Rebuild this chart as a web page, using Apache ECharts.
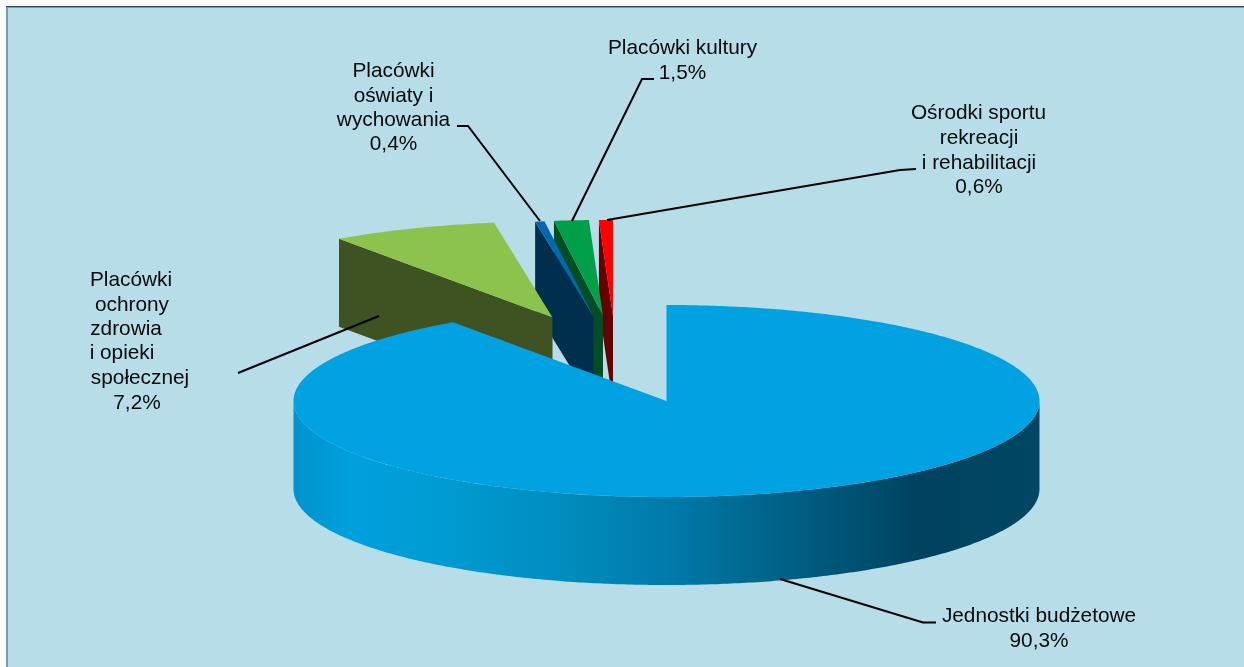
<!DOCTYPE html>
<html>
<head>
<meta charset="utf-8">
<style>html,body{margin:0;padding:0;background:#fff}#c{width:1244px;height:667px}</style>
<script src="https://cdn.jsdelivr.net/npm/echarts@6/dist/echarts.min.js"></script>
</head>
<body>
<div id="c"></div>
<script>
// ---- data ----
const categories = ['Jednostki budżetowe','Placówki ochrony zdrowia i opieki społecznej','Placówki oświaty i wychowania','Placówki kultury','Ośrodki sportu rekreacji i rehabilitacji'];
const shares = [90.3, 7.2, 0.4, 1.5, 0.6];
const labelLines = [
  ['Jednostki budżetowe','90,3%'],
  ['Placówki','ochrony','zdrowia','i opieki','społecznej','7,2%'],
  ['Placówki','oświaty i','wychowania','0,4%'],
  ['Placówki kultury','1,5%'],
  ['Ośrodki sportu','rekreacji','i rehabilitacji','0,6%']
];

// ---- styles and layout ----
const topColors  = ['#00A2E2','#8BC34C','#0067B1','#00A04B','#FF0000'];
const wallColors = [null,'#3F5322','#002F4E','#004D26','#660000'];
const pie = {cx:666.5, cy:401, rx:373, ry:96, depth:88};
const explode = [[0,0],[-114,-83.5],[-73,-84.5],[-63.5,-85],[-53.5,-85]];
const labelCenters = [
  [1039,1039],
  [131,132,126,122,140,137],
  [393.5,393.5,393.5,393.5],
  [682.5,682.5],
  [978.5,979,979,979]
];
const labelBaselines = [
  [623,648],
  [287,312,336,360,385,410],
  [78,103,127,151],
  [55,80],
  [120,145,170,194]
];
const leaders = [
  [[780,579],[923,622.5],[936,622.5]],
  [[379,316],[238,373]],
  [[540,221],[468,126],[457,126]],
  [[572,221],[642,79],[654,79]],
  [[607,220],[900,170],[916,169]]
];
const font = '20.8px "Liberation Sans", Arial, sans-serif';

// ---- geometry derived from the shares ----
const total = shares.reduce((a,b)=>a+b,0);
const starts = [];
shares.reduce((acc,v,i)=>{starts[i]=acc; return acc+v/total*2*Math.PI;},0);

function rimPoint(a, ox, oy, dz){
  return [pie.cx+ox+pie.rx*Math.sin(a), pie.cy+oy-pie.ry*Math.cos(a)+dz];
}
function arc(a0,a1,ox,oy,dz){
  const n=Math.max(2,Math.ceil(Math.abs(a1-a0)/0.01)), pts=[];
  for(let k=0;k<=n;k++) pts.push(rimPoint(a0+(a1-a0)*k/n,ox,oy,dz));
  return pts;
}

function renderSlice(params, api){
  const i = api.value(1), v = api.value(0);
  const a0 = starts[i], a1 = a0 + v/total*2*Math.PI;
  const [ox,oy] = explode[i];
  const apex = [pie.cx+ox, pie.cy+oy];
  const children = [];
  if(wallColors[i]){
    // cut wall of the exploded slice, seen from the front
    const rim = rimPoint(a0,ox,oy,0);
    children.push({type:'polygon',shape:{points:[apex,rim,[rim[0],rim[1]+pie.depth],[apex[0],apex[1]+pie.depth]]},
      style:{fill:wallColors[i]}});
  } else {
    // front outer wall of the big slice
    const top = arc(Math.PI/2,3*Math.PI/2,ox,oy,0);
    const bot = arc(3*Math.PI/2,Math.PI/2,ox,oy,pie.depth);
    children.push({type:'polygon',shape:{points:top.concat(bot)},style:{fill:new echarts.graphic.LinearGradient(0,0,1,0,[
      {offset:0,color:'#0093CC'},{offset:0.08,color:'#00A0DE'},{offset:0.2,color:'#009BD2'},
      {offset:0.35,color:'#008EC0'},{offset:0.5,color:'#007BAB'},{offset:0.65,color:'#006288'},
      {offset:0.84,color:'#00425F'},{offset:1,color:'#004763'}])}});
  }
  children.push({type:'polygon',shape:{points:[apex].concat(arc(a0,a1,ox,oy,0))},style:{fill:topColors[i]}});
  children.push({type:'polyline',shape:{points:leaders[i]},style:{fill:null,stroke:'#000',lineWidth:2}});
  labelLines[i].forEach((t,k)=>{
    children.push({type:'text',style:{text:t,x:labelCenters[i][k],y:labelBaselines[i][k]-7,
      font:font,fill:'#0a0a0a',align:'center',verticalAlign:'middle'}});
  });
  return {type:'group',children};
}

// drawn back to front: smallest-gap slices first, big slice last
const drawOrder = shares.map((v,i)=>[v,i,categories[i]]).reverse();

const chart = echarts.init(document.getElementById('c'),null,{renderer:'canvas'});
chart.setOption({
  animation:false,
  backgroundColor:'#fff',
  graphic:[
    {type:'rect',z:-10,shape:{x:6,y:6,width:1238,height:661},style:{fill:'#B7DDE8'}},
    {type:'rect',z:-9,shape:{x:6,y:6,width:2,height:661},style:{fill:'#769FA8'}},
    {type:'rect',z:-9,shape:{x:6,y:6,width:1238,height:1},style:{fill:'#2C4A52'}},
    {type:'rect',z:-9,shape:{x:8,y:7,width:1236,height:1},style:{fill:'#769FA8'}}
  ],
  series:[{type:'custom',coordinateSystem:'none',renderItem:renderSlice,data:drawOrder,silent:true}]
});
</script>
</body>
</html>
